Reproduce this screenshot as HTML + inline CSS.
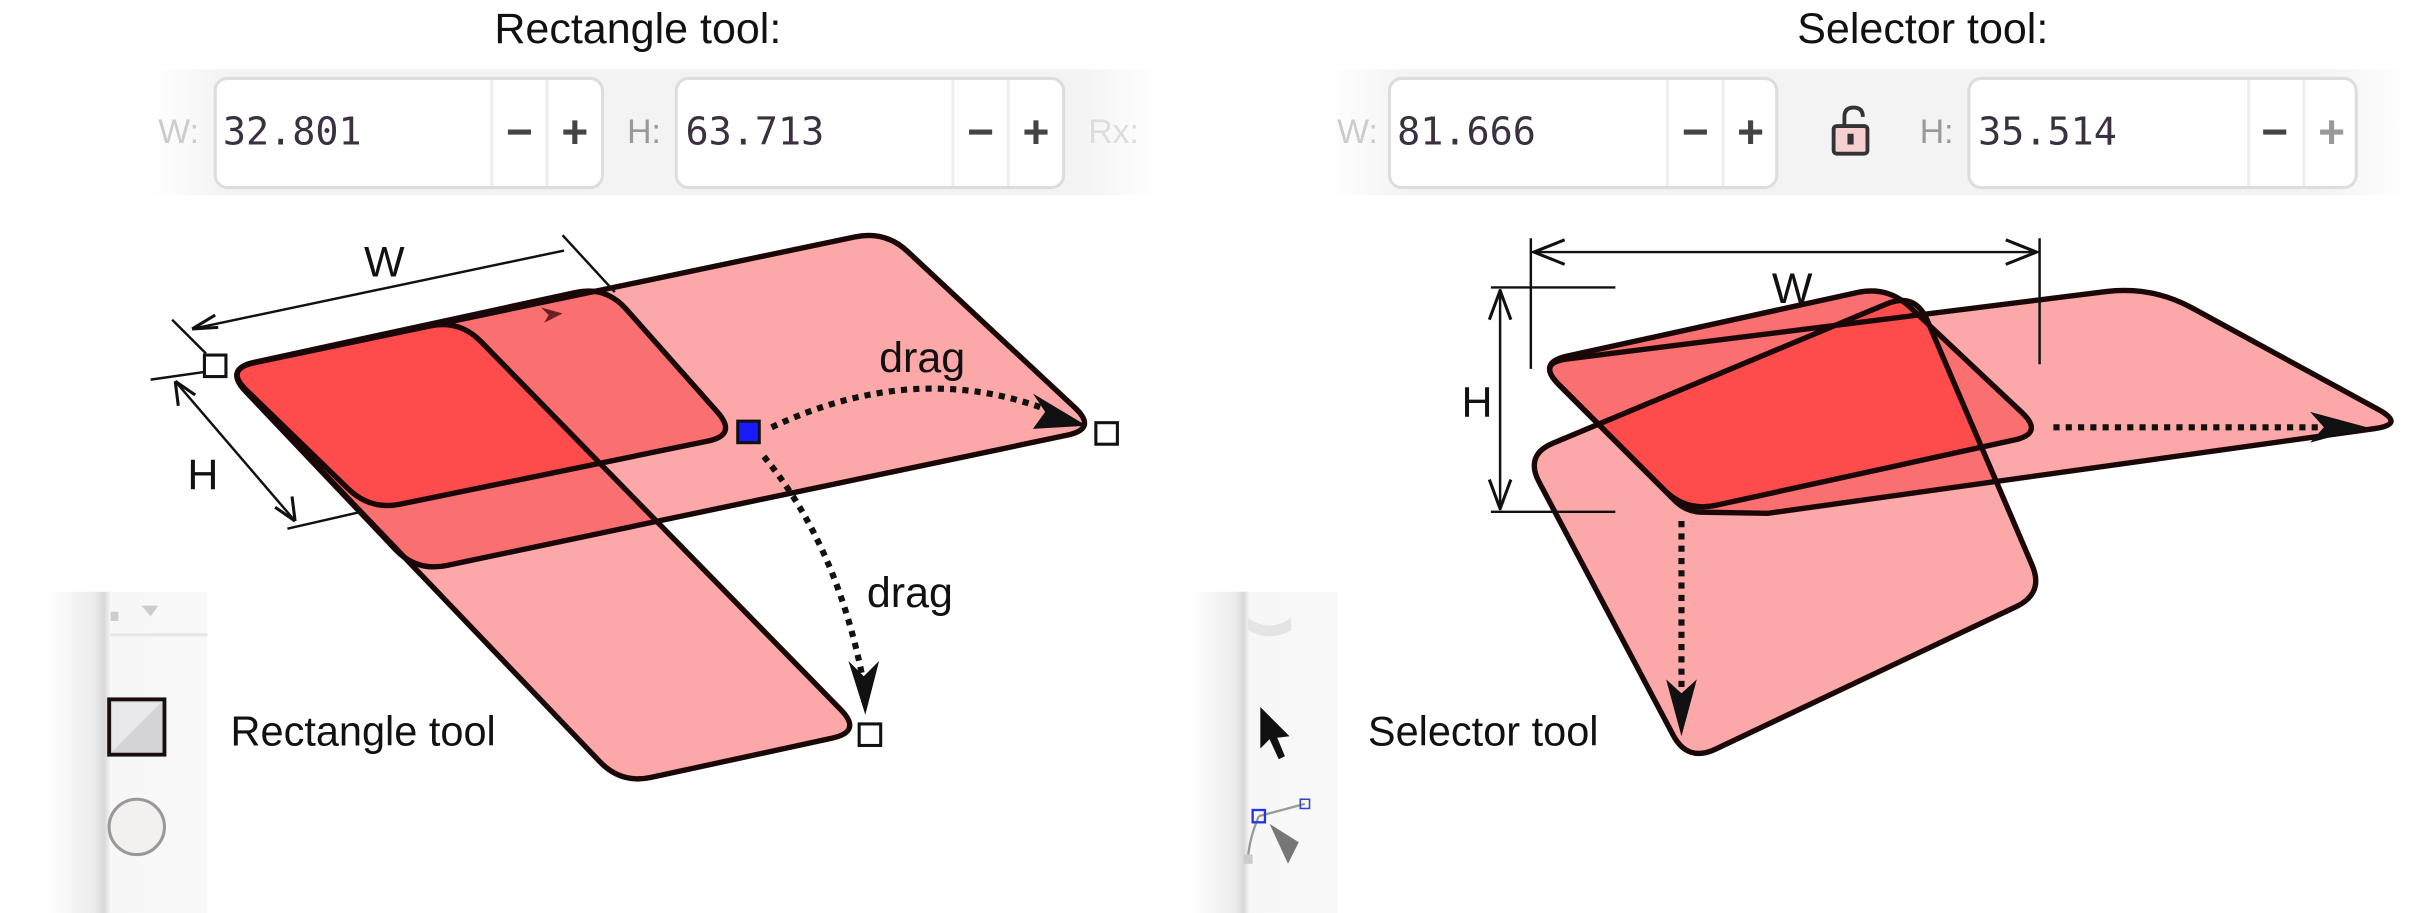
<!DOCTYPE html>
<html><head><meta charset="utf-8"><style>
html,body{margin:0;padding:0;background:#fff;}
svg{display:block;}
text{font-family:"Liberation Sans Narrow","Liberation Sans",sans-serif;}
.num{font-family:"DejaVu Sans Mono","Liberation Mono",monospace;}
</style></head><body>
<svg width="2410" height="913" viewBox="0 0 1568 594" xmlns="http://www.w3.org/2000/svg">
<defs>
  <linearGradient id="bar" x1="0" x2="1" y1="0" y2="0">
    <stop offset="0" stop-color="#f4f4f4" stop-opacity="0"/>
    <stop offset="0.08" stop-color="#f3f3f3"/>
    <stop offset="0.92" stop-color="#f3f3f3"/>
    <stop offset="1" stop-color="#f4f4f4" stop-opacity="0"/>
  </linearGradient>
  <linearGradient id="side" x1="0" x2="1">
    <stop offset="0" stop-color="#fff"/>
    <stop offset="0.3" stop-color="#ececec"/>
    <stop offset="0.36" stop-color="#d8d8d8"/>
    <stop offset="0.4" stop-color="#f7f7f7"/>
    <stop offset="1" stop-color="#f8f8f8"/>
  </linearGradient>
  <path id="pLH" d="M159.7,254.5 Q146,240 165.6,235.9 L556.4,154.1 Q576,150 590.6,163.7 L699.4,265.3 Q714,279 694.4,283.1 L290.6,367.9 Q271,372 257.3,357.5 Z"/>
  <path id="pLO" d="M160.4,253.9 Q146,240 165.5,235.7 L374.5,190.3 Q394,186 407.3,201 L466.7,268 Q480,283 460.4,287 L260.6,328 Q241,332 226.6,318.1 Z"/>
  <path id="pLV" d="M159.8,254.5 Q146,240 165.6,235.9 L279.4,212.1 Q299,208 313,222.3 L547,461.7 Q561,476 541.4,480.2 L423.6,505.8 Q404,510 390.2,495.5 Z"/>
  <path id="pRH" d="M1014.1,250.1 Q1000,236 1019.9,233.5 L1370.2,189.7 Q1400,186 1426.3,200.4 L1547.4,266.4 Q1565,276 1545.2,278.8 L1150,334 L1107,333.2 Q1097,333 1089.9,325.9 Z"/>
  <path id="pRO" d="M1014.1,250.1 Q1000,236 1019.5,231.7 L1208.5,190.3 Q1228,186 1242.6,199.7 L1315.4,268.3 Q1330,282 1310.5,286.3 L1116.5,328.7 Q1097,333 1082.9,318.9 Z"/>
  <path id="pRV" d="M1001.4,313.7 Q992,296 1010.5,288.3 L1227.5,197.7 Q1246,190 1253.9,208.4 L1322.1,367.6 Q1330,386 1311.9,394.6 L1116.1,487.4 Q1098,496 1088.6,478.3 Z"/>
  <clipPath id="lH"><use href="#pLH"/></clipPath>
  <clipPath id="lO"><use href="#pLO"/></clipPath>
  <clipPath id="rH"><use href="#pRH"/></clipPath>
  <clipPath id="rO"><use href="#pRO"/></clipPath>
</defs>

<!-- LEFT PANEL -->
<text x="415" y="28" font-size="28" text-anchor="middle" fill="#111">Rectangle tool:</text>
<g>
  <rect x="95" y="45" width="660" height="82" fill="url(#bar)"/>
  <text x="103" y="93" font-size="22" fill="#ccc">W:</text>
  <g>
    <rect x="140" y="51" width="252" height="71" rx="8" fill="#fff" stroke="#ddd" stroke-width="2"/>
    <line x1="320" y1="52" x2="320" y2="121" stroke="#eee" stroke-width="2"/>
    <line x1="356" y1="52" x2="356" y2="121" stroke="#eee" stroke-width="2"/>
    <text class="num" x="145" y="94" font-size="25" fill="#3a3040">32.801</text>
    <text x="338" y="96" font-size="30" text-anchor="middle" fill="#444" font-weight="bold">−</text>
    <text x="374" y="96" font-size="30" text-anchor="middle" fill="#444" font-weight="bold">+</text>
  </g>
  <text x="408" y="93" font-size="22" fill="#999">H:</text>
  <g>
    <rect x="440" y="51" width="252" height="71" rx="8" fill="#fff" stroke="#ddd" stroke-width="2"/>
    <line x1="620" y1="52" x2="620" y2="121" stroke="#eee" stroke-width="2"/>
    <line x1="656" y1="52" x2="656" y2="121" stroke="#eee" stroke-width="2"/>
    <text class="num" x="446" y="94" font-size="25" fill="#3a3040">63.713</text>
    <text x="638" y="96" font-size="30" text-anchor="middle" fill="#444" font-weight="bold">−</text>
    <text x="674" y="96" font-size="30" text-anchor="middle" fill="#444" font-weight="bold">+</text>
  </g>
  <text x="708" y="93" font-size="22" fill="#ddd">Rx:</text>
</g>

<g>
  <use href="#pLH" fill="#fda8a8"/>
  <use href="#pLV" fill="#fda8a8"/>
  <use href="#pLV" fill="#fa7070" clip-path="url(#lH)"/>
  <use href="#pLO" fill="#fa7070"/>
  <use href="#pLV" fill="#fe4b4b" clip-path="url(#lO)"/>
  <g fill="none" stroke="#1a0808" stroke-width="3.5" stroke-linejoin="round">
    <use href="#pLH"/><use href="#pLV"/><use href="#pLO"/>
  </g>
  <path d="M352,200 L366,204 L354,210 L357,205 Z" fill="#6a2020"/>
</g>

<g stroke="#111" stroke-width="1.6" fill="none">
  <line x1="125" y1="214" x2="367" y2="163"/>
  <line x1="112" y1="208" x2="134" y2="230"/>
  <line x1="366" y1="153" x2="400" y2="190"/>
  <path d="M125,214 L140,205 M125,214 L142,213" stroke-width="2"/>
</g>
<text x="250" y="180" font-size="28" text-anchor="middle" fill="#111">W</text>
<g stroke="#111" stroke-width="1.6" fill="none">
  <line x1="114" y1="248" x2="192" y2="339"/>
  <line x1="98" y1="247" x2="140" y2="241"/>
  <line x1="187" y1="344" x2="235" y2="333"/>
  <path d="M114,248 L116,264 M114,248 L127,257 M192,339 L190,323 M192,339 L179,330" stroke-width="2"/>
</g>
<text x="132" y="318" font-size="28" text-anchor="middle" fill="#111">H</text>

<g>
  <path d="M502,278 Q600,232 690,270" fill="none" stroke="#111" stroke-width="4" stroke-dasharray="4 4"/>
  <path d="M707,277 L672,256 L680,268 L672,279 Z" fill="#111"/>
</g>
<text x="600" y="242" font-size="28" text-anchor="middle" fill="#111">drag</text>
<g>
  <path d="M497,297 Q545,355 562,445" fill="none" stroke="#111" stroke-width="4" stroke-dasharray="4 4"/>
  <path d="M563,465 L552,430 L562,440 L572,430 Z" fill="#111"/>
</g>
<text x="592" y="395" font-size="28" text-anchor="middle" fill="#111">drag</text>

<rect x="133" y="231" width="14" height="14" fill="#fff" stroke="#111" stroke-width="2"/>
<rect x="480" y="274" width="14" height="14" fill="#1a1aff" stroke="#111" stroke-width="2"/>
<rect x="713" y="275" width="14" height="14" fill="#fff" stroke="#111" stroke-width="2"/>
<rect x="559" y="471" width="14" height="14" fill="#fff" stroke="#111" stroke-width="2"/>

<g>
  <rect x="30" y="385" width="105" height="209" fill="url(#side)"/>
  <rect x="72" y="398" width="5" height="6" fill="#ccc"/>
  <path d="M92,394 L103,394 L98,401 Z" fill="#ccc"/>
  <line x1="72" y1="413" x2="135" y2="413" stroke="#e6e6e6" stroke-width="2"/>
  <g>
    <rect x="71" y="455" width="36" height="36" fill="#d4d4d6" stroke="#1a0d0d" stroke-width="2.5"/>
    <path d="M73,457 L105,457 L73,489 Z" fill="#e8e8ea"/>
  </g>
  <circle cx="89" cy="538" r="18" fill="#f4f0f0" stroke="#999" stroke-width="2"/>
</g>
<text x="150" y="485" font-size="27" fill="#111">Rectangle tool</text>

<!-- RIGHT PANEL -->
<text x="1251" y="28" font-size="28" text-anchor="middle" fill="#111">Selector tool:</text>
<g>
  <rect x="860" y="45" width="708" height="82" fill="url(#bar)"/>
  <text x="870" y="93" font-size="22" fill="#ccc">W:</text>
  <g>
    <rect x="904" y="51" width="252" height="71" rx="8" fill="#fff" stroke="#ddd" stroke-width="2"/>
    <line x1="1085" y1="52" x2="1085" y2="121" stroke="#eee" stroke-width="2"/>
    <line x1="1121" y1="52" x2="1121" y2="121" stroke="#eee" stroke-width="2"/>
    <text class="num" x="909" y="94" font-size="25" fill="#3a3040">81.666</text>
    <text x="1103" y="96" font-size="30" text-anchor="middle" fill="#444" font-weight="bold">−</text>
    <text x="1139" y="96" font-size="30" text-anchor="middle" fill="#444" font-weight="bold">+</text>
  </g>
  <g>
    <path d="M1200,82 L1200,76 Q1200,70 1206,70 Q1212,70 1212,76" fill="none" stroke="#333" stroke-width="2.5"/>
    <rect x="1193" y="82" width="22" height="18" rx="2" fill="#f6d0d0" stroke="#333" stroke-width="2.5"/>
    <rect x="1202" y="87" width="4" height="7" fill="#333"/>
  </g>
  <text x="1249" y="93" font-size="22" fill="#999">H:</text>
  <g>
    <rect x="1281" y="51" width="252" height="71" rx="8" fill="#fff" stroke="#ddd" stroke-width="2"/>
    <line x1="1463" y1="52" x2="1463" y2="121" stroke="#eee" stroke-width="2"/>
    <line x1="1499" y1="52" x2="1499" y2="121" stroke="#eee" stroke-width="2"/>
    <text class="num" x="1287" y="94" font-size="25" fill="#3a3040">35.514</text>
    <text x="1480" y="96" font-size="30" text-anchor="middle" fill="#444" font-weight="bold">−</text>
    <text x="1517" y="96" font-size="30" text-anchor="middle" fill="#999" font-weight="bold">+</text>
  </g>
</g>

<g>
  <use href="#pRH" fill="#fda8a8"/>
  <use href="#pRV" fill="#fda8a8"/>
  <use href="#pRV" fill="#fa7070" clip-path="url(#rH)"/>
  <use href="#pRO" fill="#fa7070"/>
  <use href="#pRV" fill="#fe4b4b" clip-path="url(#rO)"/>
  <g fill="none" stroke="#1a0808" stroke-width="3.5" stroke-linejoin="round">
    <use href="#pRH"/><use href="#pRV"/><use href="#pRO"/>
  </g>
</g>

<g stroke="#111" stroke-width="1.6" fill="none">
  <line x1="996" y1="164" x2="1327" y2="164"/>
  <line x1="996" y1="155" x2="996" y2="240"/>
  <line x1="1327" y1="155" x2="1327" y2="237"/>
  <path d="M998,164 L1018,156 M998,164 L1018,172 M1325,164 L1305,156 M1325,164 L1305,172" stroke-width="2"/>
</g>
<text x="1166" y="197" font-size="28" text-anchor="middle" fill="#111">W</text>
<g stroke="#111" stroke-width="1.6" fill="none">
  <line x1="976" y1="188" x2="976" y2="332"/>
  <line x1="970" y1="187" x2="1051" y2="187"/>
  <line x1="970" y1="333" x2="1051" y2="333"/>
  <path d="M976,189 L969,208 M976,189 L983,208 M976,331 L969,312 M976,331 L983,312" stroke-width="2"/>
</g>
<text x="961" y="271" font-size="28" text-anchor="middle" fill="#111">H</text>

<g>
  <line x1="1336" y1="278" x2="1515" y2="278" stroke="#111" stroke-width="4" stroke-dasharray="4 4"/>
  <path d="M1540,278 L1503,268 L1512,278 L1503,288 Z" fill="#111"/>
</g>
<g>
  <line x1="1094" y1="339" x2="1094" y2="455" stroke="#111" stroke-width="4" stroke-dasharray="4 4"/>
  <path d="M1094,479 L1084,442 L1094,451 L1104,442 Z" fill="#111"/>
</g>

<g>
  <rect x="775" y="385" width="95" height="209" fill="url(#side)"/>
  <path d="M812,402 Q826,412 840,402 L840,410 Q826,418 812,410 Z" fill="#e4e4e4"/>
  <path d="M820,460 L820,487 L826,481 L832,494 L836,492 L831,480 L839,479 Z" fill="#111"/>
  <g>
    <path d="M819,531 L849,523 M819,531 Q813,545 812,558" fill="none" stroke="#999" stroke-width="1.5"/>
    <rect x="815" y="527" width="8" height="8" fill="none" stroke="#2233ee" stroke-width="1.5"/>
    <rect x="846" y="520" width="6" height="6" fill="none" stroke="#3344cc" stroke-width="1"/>
    <rect x="809" y="556" width="6" height="6" fill="#ccc"/>
    <path d="M826,536 L845,548 L838,562 Z" fill="#777"/>
  </g>
</g>
<text x="890" y="485" font-size="27" fill="#111">Selector tool</text>
</svg>
</body></html>
